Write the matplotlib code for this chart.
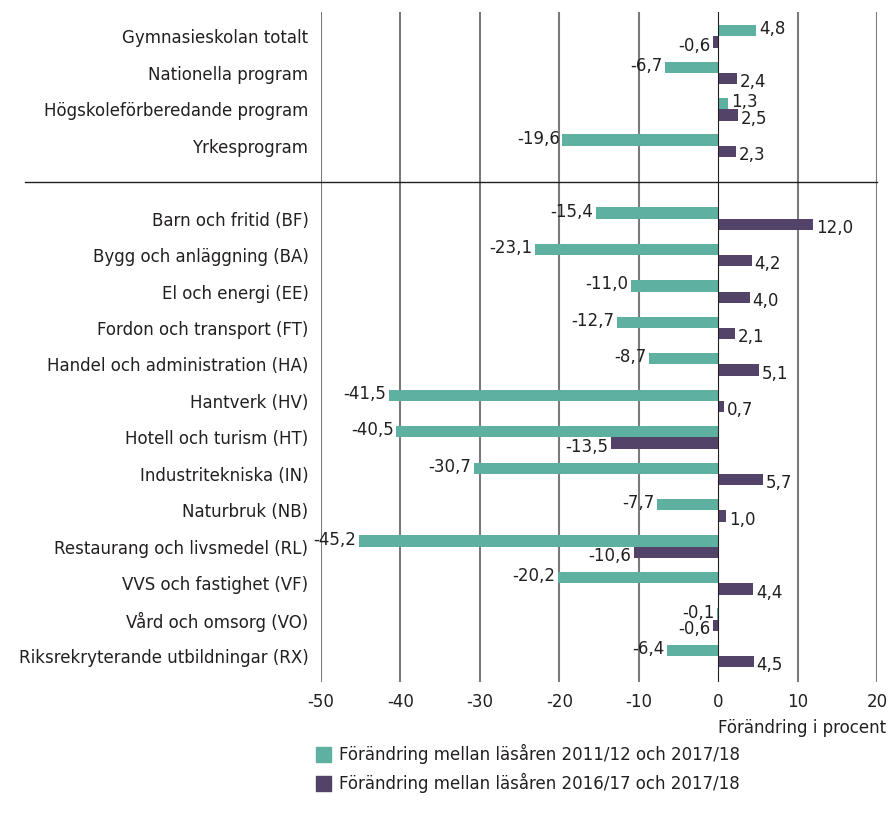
import matplotlib
matplotlib.use("Agg")
import matplotlib.pyplot as plt
import matplotlib.transforms as mtransforms
from matplotlib.patches import Patch

plt.rcParams['font.family'] = ['DejaVu Sans']

categories_top = ["Gymnasieskolan totalt", "Nationella program",
                  "Högskoleförberedande program", "Yrkesprogram"]
categories_bottom = ["Barn och fritid (BF)", "Bygg och anläggning (BA)", "El och energi (EE)",
                     "Fordon och transport (FT)", "Handel och administration (HA)", "Hantverk (HV)",
                     "Hotell och turism (HT)", "Industritekniska (IN)", "Naturbruk (NB)",
                     "Restaurang och livsmedel (RL)", "VVS och fastighet (VF)",
                     "Vård och omsorg (VO)", "Riksrekryterande utbildningar (RX)"]
change_2011 = [4.8, -6.7, 1.3, -19.6,
               -15.4, -23.1, -11.0, -12.7, -8.7, -41.5, -40.5, -30.7, -7.7, -45.2, -20.2, -0.1, -6.4]
change_2016 = [-0.6, 2.4, 2.5, 2.3,
               12.0, 4.2, 4.0, 2.1, 5.1, 0.7, -13.5, 5.7, 1.0, -10.6, 4.4, -0.6, 4.5]
series_names = ["Förändring mellan läsåren 2011/12 och 2017/18",
                "Förändring mellan läsåren 2016/17 och 2017/18"]
xticks = [-50, -40, -30, -20, -10, 0, 10, 20]
xlabel = "Förändring i procent"

teal = "#5eb1a0"
purple = "#544368"
txt = "#231f20"
fs = 12

categories = categories_top + categories_bottom
positions = list(range(len(categories_top))) + \
    [len(categories_top) + 1 + i for i in range(len(categories_bottom))]

fig = plt.figure(figsize=(8.9, 8.16), dpi=100)
ax = fig.add_axes([321/890, 1-682/816, (877-321)/890, (682-12)/816])

h = 0.31
ax.barh([p - h/2 for p in positions], change_2011, height=h, color=teal, zorder=3)
ax.barh([p + h/2 for p in positions], change_2016, height=h, color=purple, zorder=3)

ax.set_xlim(-50, 20)
ax.set_ylim(17.71, -0.67)

for x in xticks:
    if x == 0:
        ax.axvline(x, color=txt, lw=0.8, zorder=4)
    else:
        ax.axvline(x, color="#7a7a7a", lw=1.5, zorder=1)

def fmt(v):
    return f"{v:.1f}".replace(".", ",")

off = 0.35
for p, v1, v2 in zip(positions, change_2011, change_2016):
    for v, y in ((v1, p - h/2 - 0.04), (v2, p + h/2 + 0.1)):
        if v >= 0:
            ax.text(v + off, y, fmt(v), ha="left", va="center", fontsize=fs, color=txt, zorder=5)
        else:
            ax.text(v - off, y, fmt(v), ha="right", va="center", fontsize=fs, color=txt, zorder=5)

ax.set_yticks(positions)
ax.set_yticklabels(categories, fontsize=fs, color=txt)
ax.tick_params(axis="y", length=0, pad=9)
ax.set_xticks(xticks)
ax.set_xticklabels([str(x) for x in xticks], fontsize=fs, color=txt)
ax.tick_params(axis="x", length=0, pad=8)
for s in ax.spines.values():
    s.set_visible(False)

# separator line between groups
trans = mtransforms.blended_transform_factory(ax.transAxes, ax.transData)
sep = len(categories_top)
ax.plot([(25-321)/(877-321), 1], [sep, sep], transform=trans, color=txt, lw=1, clip_on=False, zorder=4)

fig.text(886/890, 1-728/816, xlabel, ha="right", va="center", fontsize=fs, color=txt)

handles = [Patch(color=teal), Patch(color=purple)]
fig.legend(handles, series_names, loc="upper left", bbox_to_anchor=(316/890, 1-744/816),
           frameon=False, fontsize=fs, handlelength=0.9, handleheight=1.0, handletextpad=0.5,
           labelspacing=0.55, borderaxespad=0, borderpad=0, labelcolor=txt)

fig.savefig("out.png", dpi=100)
